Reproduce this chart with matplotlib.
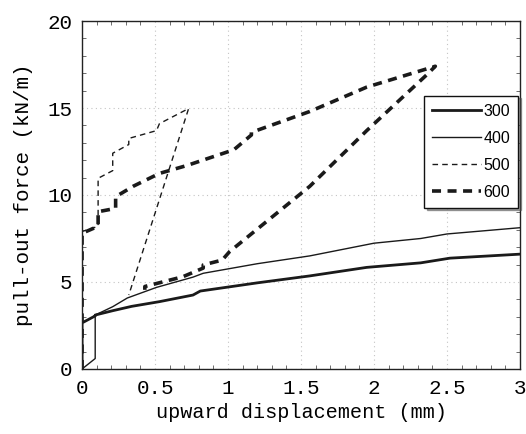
import matplotlib
matplotlib.use("Agg")
import matplotlib.pyplot as plt
from matplotlib.ticker import MultipleLocator

# Data (upward displacement mm, pull-out force kN/m)
x300 = [0, 0, 0.09, 0.09, 0.21, 0.34, 0.53, 0.76, 0.81, 1.20, 1.56, 1.95, 2.32, 2.52, 3.0]
y300 = [0, 2.65, 3.05, 3.1, 3.35, 3.6, 3.87, 4.25, 4.48, 4.95, 5.35, 5.84, 6.1, 6.37, 6.6]

x400 = [0, 0.09, 0.09, 0.21, 0.31, 0.51, 0.76, 0.83, 1.20, 1.56, 2.0, 2.32, 2.5, 3.0]
y400 = [0, 0.6, 3.1, 3.58, 4.08, 4.69, 5.28, 5.5, 6.05, 6.5, 7.23, 7.5, 7.76, 8.12]

x500 = [0, 0, 0.11, 0.11, 0.21, 0.21, 0.32, 0.32, 0.51, 0.53, 0.73, 0.32]
y500 = [0, 7.9, 8.2, 10.96, 11.4, 12.4, 12.9, 13.25, 13.7, 14.1, 14.97, 4.25]

x600 = [0, 0, 0.11, 0.11, 0.23, 0.23, 0.35, 0.53, 0.72, 1.04, 1.16, 1.16, 1.56,
        1.95, 2.42, 2.36, 1.95, 1.56, 1.01, 0.96, 0.83, 0.83, 0.69, 0.43, 0.43]
y600 = [0, 7.8, 8.2, 9.04, 9.23, 9.9, 10.5, 11.24, 11.7, 12.6, 13.45, 13.6, 14.8,
        16.2, 17.4, 16.9, 13.7, 10.5, 6.74, 6.26, 5.98, 5.8, 5.3, 4.74, 4.55]

labels = ["300", "400", "500", "600"]

fig = plt.figure(figsize=(5.26, 4.34), dpi=100)
ax = fig.add_axes([0.156, 0.1498, 0.8326, 0.8018])

ax.plot(x300, y300, color="#1a1a1a", lw=2.0, label=labels[0])
ax.plot(x400, y400, color="#1a1a1a", lw=1.0, label=labels[1])
ax.plot(x500, y500, color="#1a1a1a", lw=1.0, ls=(0, (4, 3)), label=labels[2])
ax.plot(x600, y600, color="#1a1a1a", lw=2.6, ls=(0, (2.5, 1.8)), label=labels[3])

ax.set_xlim(0, 3)
ax.set_ylim(0, 20)
ax.xaxis.set_minor_locator(MultipleLocator(0.1))
ax.yaxis.set_major_locator(MultipleLocator(5))
ax.yaxis.set_minor_locator(MultipleLocator(1))
ax.set_xticks([0, 0.5, 1, 1.5, 2, 2.5, 3])
ax.set_xticklabels(["0", "0.5", "1", "1.5", "2", "2.5", "3"])
ax.tick_params(which="both", direction="in", top=True, right=True)
ax.tick_params(which="major", length=0, labelsize=15, pad=7)
ax.tick_params(which="minor", length=3, width=0.6, color="#555555")
for lbl in ax.get_xticklabels() + ax.get_yticklabels():
    lbl.set_family("Liberation Mono")
ax.grid(True, which="major", color="#c4c4c4", ls=(0, (1, 3)), lw=0.8)
for s in ax.spines.values():
    s.set_linewidth(1.0)
    s.set_color("#222222")

ax.set_xlabel("upward displacement (mm)", family="Liberation Mono", fontsize=14.5, labelpad=4)
ax.set_ylabel("pull-out force (kN/m)", family="Liberation Mono", fontsize=15, labelpad=10)

leg = ax.legend(loc="upper right", bbox_to_anchor=(1.0, 0.79), frameon=True,
                fancybox=False, shadow=True, edgecolor="#111111",
                handlelength=3.1, handletextpad=0.15, borderpad=0.5, labelspacing=0.75,
                borderaxespad=0.1, prop={"family": "Liberation Sans", "size": 11.5})
leg.get_frame().set_linewidth(1.0)

fig.savefig("out.png", dpi=100)
